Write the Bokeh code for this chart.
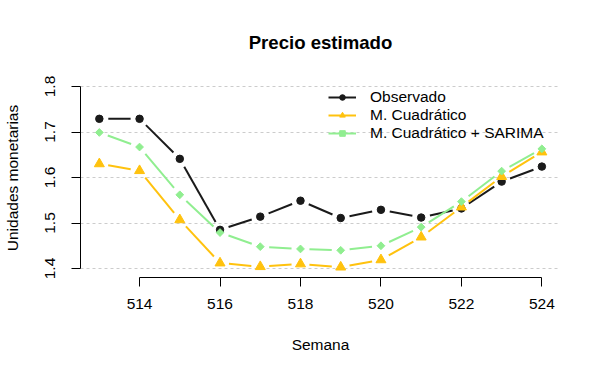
import math
from bokeh.plotting import figure
from bokeh.models import FixedTicker, Legend, LegendItem, Range1d
from bokeh.embed import file_html
from bokeh.resources import INLINE

# ---- data ----
semana = [513, 514, 515, 516, 517, 518, 519, 520, 521, 522, 523, 524]
observado = [1.729, 1.729, 1.641, 1.485, 1.514, 1.549, 1.511, 1.529, 1.512, 1.532, 1.591, 1.624]
cuadratico = [1.630, 1.615, 1.507, 1.412, 1.404, 1.410, 1.403, 1.419, 1.469, 1.535, 1.602, 1.656]
sarima = [1.699, 1.667, 1.562, 1.479, 1.448, 1.443, 1.440, 1.450, 1.491, 1.547, 1.614, 1.663]
x_ticks = [514, 516, 518, 520, 522, 524]
y_ticks = [1.4, 1.5, 1.6, 1.7, 1.8]
y_labels = ["1.4", "1.5", "1.6", "1.7", "1.8"]
titulo = "Precio estimado"

FONT = "Liberation Sans"
W, H = 600, 374
BL, BR, BT, BB = 78, 40, 78, 97
FW, FH = W - BL - BR, H - BT - BB
X0, X1 = 512.532, 524.463
Y1 = 1.8176
Y0 = Y1 - FH / 455.0

p = figure(width=W, height=H, x_range=Range1d(X0, X1), y_range=Range1d(Y0, Y1),
           output_backend="svg", toolbar_location=None,
           min_border_left=BL, min_border_right=BR, min_border_top=BT, min_border_bottom=BB)
p.outline_line_color = None
p.background_fill_color = "white"
p.border_fill_color = "white"

p.title.text = titulo
p.title.align = "center"
p.title.text_font = FONT
p.title.text_font_size = "18.6px"
p.title.text_font_style = "bold"
p.title.text_color = "black"
p.title.standoff = 52

p.xgrid.visible = False
p.ygrid.ticker = FixedTicker(ticks=y_ticks)
p.ygrid.grid_line_color = "#cccccc"
p.ygrid.grid_line_dash = "3 3"
p.ygrid.grid_line_width = 1

for ax in (p.xaxis[0], p.yaxis[0]):
    ax.axis_line_color = "black"
    ax.axis_line_width = 1
    ax.major_tick_line_color = "black"
    ax.major_tick_in = 0
    ax.major_tick_out = 9
    ax.minor_tick_line_color = None
    ax.major_label_text_font = FONT
    ax.major_label_text_font_size = "15.5px"
    ax.major_label_text_color = "black"
    ax.axis_label_text_font = FONT
    ax.axis_label_text_font_size = "15.5px"
    ax.axis_label_text_font_style = "normal"
    ax.axis_label_text_color = "black"

p.xaxis[0].ticker = FixedTicker(ticks=x_ticks)
p.xaxis[0].bounds = (x_ticks[0], x_ticks[-1])
p.xaxis[0].axis_label = "Semana"
p.xaxis[0].major_label_standoff = 12
p.xaxis[0].axis_label_standoff = 24

p.yaxis[0].ticker = FixedTicker(ticks=y_ticks)
p.yaxis[0].bounds = (y_ticks[0], y_ticks[-1])
p.yaxis[0].major_label_overrides = {t: s for t, s in zip(y_ticks, y_labels)}
p.yaxis[0].major_label_orientation = "vertical"
p.yaxis[0].axis_label = "Unidades monetarias"
p.yaxis[0].major_label_standoff = 16
p.yaxis[0].axis_label_standoff = 22

# type="b" style gaps around points
kx = FW / (X1 - X0)
ky = FH / (Y1 - Y0)
GAP = 9.0


def gapped(xs, ys):
    sx, sy = [], []
    for i in range(len(xs) - 1):
        dxp = (xs[i + 1] - xs[i]) * kx
        dyp = (ys[i + 1] - ys[i]) * ky
        L = math.hypot(dxp, dyp)
        if L <= 2 * GAP:
            continue
        f = GAP / L
        ax_ = xs[i] + f * (xs[i + 1] - xs[i])
        ay_ = ys[i] + f * (ys[i + 1] - ys[i])
        bx_ = xs[i + 1] - f * (xs[i + 1] - xs[i])
        by_ = ys[i + 1] - f * (ys[i + 1] - ys[i])
        sx.append([ax_, bx_])
        sy.append([ay_, by_])
    return sx, sy


series = [
    ("Observado", observado, "#1a1a1a", "circle", 7.5, 0.0),
    ("M. Cuadrático", cuadratico, "#FFC20E", "triangle", 10, 0.0),
    ("M. Cuadrático + SARIMA", sarima, "#90EE90", "square", 5.5, math.pi / 4),
]

items = []
for name, vals, col, mk, sz, ang in series:
    sx, sy = gapped(semana, vals)
    r1 = p.multi_line(sx, sy, line_color=col, line_width=2)
    r2 = p.scatter(semana, vals, marker=mk, size=sz, angle=ang,
                   fill_color=col, line_color=col)
    items.append(LegendItem(label=name, renderers=[r1, r2]))

leg = Legend(items=items, location=(248, 135), orientation="vertical")
leg.border_line_color = None
leg.background_fill_alpha = 0
leg.padding = 0
leg.margin = 0
leg.spacing = -1
leg.glyph_width = 28
leg.glyph_height = 14
leg.label_height = 14
leg.label_standoff = 14
leg.label_text_font = FONT
leg.label_text_font_size = "15.5px"
leg.label_text_color = "black"
leg.label_text_baseline = "middle"
p.add_layout(leg, "center")

open("out.html", "w").write(file_html(p, INLINE))
